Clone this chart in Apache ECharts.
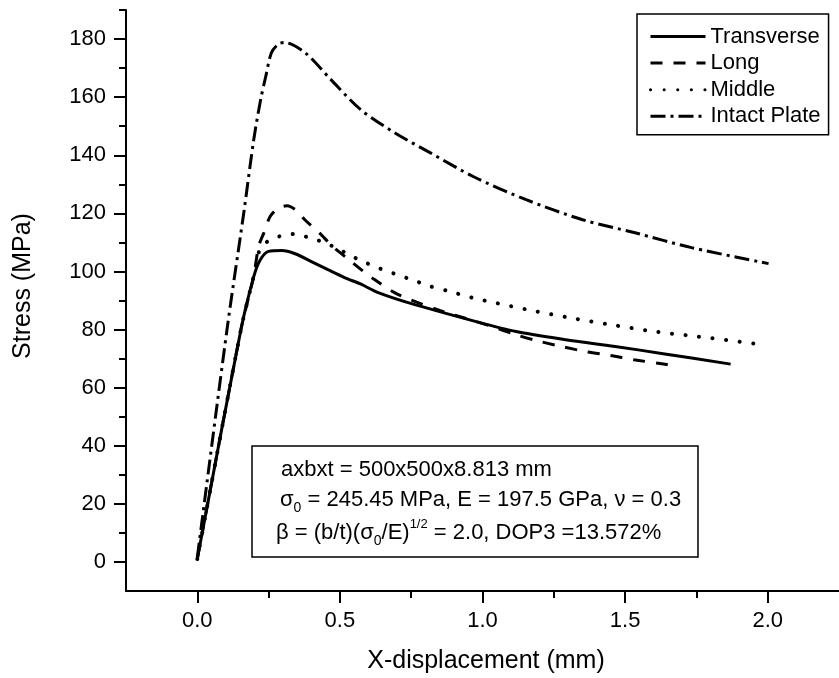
<!DOCTYPE html>
<html>
<head>
<meta charset="utf-8">
<script src="https://cdn.jsdelivr.net/npm/echarts@6/dist/echarts.min.js"></script>
<style>
  html, body { margin: 0; padding: 0; background: #fff; }
  #chart { width: 839px; height: 678px; }
</style>
</head>
<body>
<div id="chart"></div>
<script>
// Load–displacement curves of stiffened plates (stress vs. X-displacement)
const seriesNames = ['Transverse', 'Long', 'Middle', 'Intact Plate'];

const transverseX = [0, 0.153, 0.198, 0.221, 0.25, 0.296, 0.343, 0.40, 0.458, 0.516, 0.574, 0.632, 0.748, 0.968, 1.118, 1.292, 1.465, 1.639, 1.87];
const transverseY = [1, 80, 98.2, 104, 106.9, 107.2, 106.1, 103.4, 100.6, 97.9, 95.6, 92.8, 89.0, 83.0, 79.3, 76.5, 74.2, 71.6, 68.1];

const longX = [0, 0.153, 0.198, 0.215, 0.233, 0.256, 0.285, 0.314, 0.343, 0.377, 0.435, 0.47, 0.522, 0.58, 0.62, 0.69, 0.748, 0.85, 1.035, 1.118, 1.201, 1.277, 1.363, 1.448, 1.531, 1.616, 1.685];
const longY = [1, 80, 98.5, 108.6, 113.2, 119, 121.8, 122.6, 121.3, 117.8, 112.6, 109, 104.8, 100.2, 97.3, 92.8, 90.2, 86.6, 81.0, 78.2, 75.9, 74.2, 72.4, 71.1, 69.6, 68.4, 67.3];

const middleX = [0, 0.153, 0.198, 0.221, 0.256, 0.296, 0.343, 0.395, 0.435, 0.476, 0.551, 0.591, 0.626, 0.771, 0.809, 0.875, 0.962, 1.049, 1.17, 1.315, 1.454, 1.604, 1.755, 1.984];
const middleY = [1, 80, 98.5, 108, 110.9, 112.3, 112.9, 111.5, 110.3, 108.6, 104.8, 103.0, 101.5, 96.5, 95.1, 93.4, 91.0, 89.1, 86.6, 83.9, 81.6, 79.3, 77.6, 74.8];

const intactX = [0, 0.104, 0.163, 0.198, 0.222, 0.240, 0.260, 0.285, 0.306, 0.378, 0.465, 0.573, 0.691, 0.816, 0.969, 1.153, 1.351, 1.535, 1.733, 2.003];
const intactY = [1.5, 79.9, 120.2, 145.4, 159.1, 167.1, 175.3, 178.3, 178.8, 175.3, 166.4, 155.7, 147.8, 140.9, 132.6, 124.7, 117.8, 113.3, 108.2, 102.7];

// Axis ticks
const xMajorTicks = [0, 0.5, 1.0, 1.5, 2.0];
const xMinorTicks = [0.25, 0.75, 1.25, 1.75];
const yMajorTicks = [0, 20, 40, 60, 80, 100, 120, 140, 160, 180];
const yMinorTicks = [10, 30, 50, 70, 90, 110, 130, 150, 170, 190];

const FONT = '"Liberation Sans", Arial, Helvetica, sans-serif';
const pairs = (xs, ys) => xs.map((x, i) => [x, ys[i]]);

const chart = echarts.init(document.getElementById('chart'), null, { renderer: 'canvas' });

function lineSeries(name, xs, ys, style) {
  return {
    name: name,
    type: 'line',
    xAxisIndex: 0,
    yAxisIndex: 0,
    data: pairs(xs, ys),
    symbol: 'none',
    showSymbol: false,
    smooth: 0.3,
    silent: true,
    itemStyle: { color: '#000' },
    lineStyle: Object.assign({ color: '#000', width: 3 }, style)
  };
}

// an axis that only carries tick marks at the given values
function tickAxis(min, max, position, values, len) {
  return {
    type: 'value', min: min, max: max, position: position,
    axisLine: { show: false, onZero: false },
    axisTick: { show: true, customValues: values, length: len, lineStyle: { color: '#000', width: 2 } },
    axisLabel: { show: false },
    splitLine: { show: false }
  };
}

const option = {
  backgroundColor: '#fff',
  animation: false,
  grid: { left: 126, right: -7, top: 10, bottom: 87, containLabel: false },
  xAxis: [
    {
      type: 'value', min: -0.25, max: 2.25, position: 'bottom',
      axisLine: { show: true, onZero: false, lineStyle: { color: '#000', width: 2 } },
      axisTick: { show: false },
      axisLabel: {
        show: true, customValues: xMajorTicks, margin: 19,
        formatter: v => Number(v).toFixed(1),
        fontSize: 22, color: '#000', fontFamily: FONT
      },
      splitLine: { show: false }
    },
    tickAxis(-0.25, 2.25, 'bottom', xMajorTicks, 12),
    tickAxis(-0.25, 2.25, 'bottom', xMinorTicks, 7)
  ],
  yAxis: [
    {
      type: 'value', min: -10, max: 190, position: 'left',
      axisLine: { show: true, onZero: false, lineStyle: { color: '#000', width: 2 } },
      axisTick: { show: false },
      axisLabel: {
        show: true, customValues: yMajorTicks, margin: 20,
        fontSize: 22, color: '#000', fontFamily: FONT
      },
      splitLine: { show: false }
    },
    tickAxis(-10, 190, 'left', yMajorTicks, 12),
    tickAxis(-10, 190, 'left', yMinorTicks, 7)
  ],
  legend: {
    data: seriesNames,
    orient: 'vertical',
    left: 637, top: 14,
    itemWidth: 55, itemHeight: 14, itemGap: 4.6,
    padding: [11.5, 8, 7.5, 12],
    borderColor: '#000', borderWidth: 1.5,
    backgroundColor: '#fff',
    selectedMode: false,
    textStyle: { fontSize: 22, color: '#000', fontFamily: FONT },
    lineStyle: { width: 3 },
    itemStyle: { opacity: 0 }
  },
  series: [
    lineSeries(seriesNames[0], transverseX, transverseY, { type: 'solid' }),
    lineSeries(seriesNames[1], longX, longY, { type: [12, 11] }),
    lineSeries(seriesNames[2], middleX, middleY, { type: [0.1, 13.5], cap: 'round', width: 4 }),
    lineSeries(seriesNames[3], intactX, intactY, { type: [15, 5, 3, 5] })
  ],
  graphic: [
    {
      type: 'text', x: 23, y: 286, rotation: Math.PI / 2,
      style: { text: 'Stress (MPa)', fontSize: 25, fontFamily: FONT, fill: '#000', align: 'center', verticalAlign: 'middle' }
    },
    {
      type: 'text', x: 486, y: 661,
      style: { text: 'X-displacement (mm)', fontSize: 25, fontFamily: FONT, fill: '#000', align: 'center', verticalAlign: 'middle' }
    },
    {
      type: 'rect',
      shape: { x: 252, y: 446, width: 446, height: 111 },
      style: { fill: '#fff', stroke: '#000', lineWidth: 1.5 }
    },
    {
      type: 'text', x: 281, y: 470,
      style: { text: 'axbxt = 500x500x8.813 mm', fontSize: 22, fontFamily: FONT, fill: '#000', align: 'left', verticalAlign: 'middle' }
    },
    {
      type: 'text', x: 280, y: 500,
      style: {
        text: '{m|σ}{s|0}{m| = 245.45 MPa, E = 197.5 GPa, ν = 0.3}',
        align: 'left', verticalAlign: 'middle',
        rich: {
          m: { fontSize: 22, lineHeight: 30, fontFamily: FONT, fill: '#000', color: '#000' },
          s: { fontSize: 14, lineHeight: 14, fontFamily: FONT, fill: '#000', color: '#000', verticalAlign: 'bottom' }
        }
      }
    },
    {
      type: 'text', x: 276, y: 533,
      style: {
        text: '{m|β = (b/t)(σ}{s|0}{m|/E)}{p|1/2}{m| = 2.0, DOP3 =13.572%}',
        align: 'left', verticalAlign: 'middle',
        rich: {
          m: { fontSize: 22, lineHeight: 30, fontFamily: FONT, fill: '#000', color: '#000' },
          s: { fontSize: 14, lineHeight: 14, fontFamily: FONT, fill: '#000', color: '#000', verticalAlign: 'bottom' },
          p: { fontSize: 13, lineHeight: 13, fontFamily: FONT, fill: '#000', color: '#000', verticalAlign: 'top' }
        }
      }
    }
  ]
};

chart.setOption(option);
</script>
</body>
</html>
